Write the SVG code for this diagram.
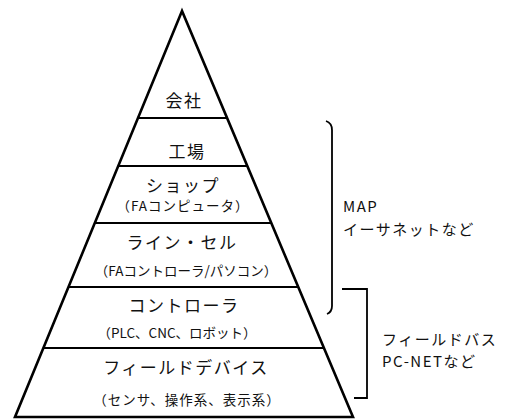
<svg xmlns="http://www.w3.org/2000/svg" width="512" height="420" viewBox="0 0 512 420">
<style>
.frame{fill:none;stroke:#000;stroke-width:2.6;stroke-linejoin:miter}
.div{stroke:#000;stroke-width:2}
.br{fill:none;stroke:#000;stroke-width:1.8}
text{font-family:"Noto Sans CJK JP","Noto Sans",sans-serif;fill:#111;text-anchor:middle}
.t1{font-size:17px;letter-spacing:1.5px}
.t2{font-size:13.5px}
.side{font-size:15px;text-anchor:start;letter-spacing:1.5px}
</style>
<rect width="512" height="420" fill="#fff"/>
<g id="pyramid">
<polygon class="frame" points="182,11 15,417 353,417"/>
<line class="div" x1="138" y1="118" x2="227" y2="118"/>
<line class="div" x1="118" y1="166" x2="247" y2="166"/>
<line class="div" x1="95" y1="223" x2="271" y2="223"/>
<line class="div" x1="68.5" y1="287" x2="298" y2="287"/>
<line class="div" x1="43.5" y1="348" x2="324" y2="348"/>
</g>
<g id="kaisha"><text class="t1" x="184" y="107">会社</text></g>
<g id="kojo"><text class="t1" x="187" y="158">工場</text></g>
<g id="shop"><text class="t1" x="183" y="192" letter-spacing="2.5">ショップ</text><text class="t2" x="183" y="211" letter-spacing="1">（FAコンピュータ）</text></g>
<g id="line-cell"><text class="t1" x="182" y="249" letter-spacing="1.5">ライン・セル</text><text class="t2" x="186" y="276">（FAコントローラ/パソコン）</text></g>
<g id="controller"><text class="t1" x="184" y="312" letter-spacing="2">コントローラ</text><text class="t2" x="177" y="338">（PLC、CNC、ロボット）</text></g>
<g id="field-device"><text class="t1" x="186" y="374" letter-spacing="2">フィールドデバイス</text><text class="t2" x="187" y="405" letter-spacing="1">（センサ、操作系、表示系）</text></g>
<g id="connectors">
<path class="br" d="M326,121 Q332,123 332,130 L332,306 Q332,312 327,314"/>
<path class="br" d="M342,289 L367,289 L367,398 L354,398"/>
</g>
<g id="map"><text class="side" x="343" y="212" letter-spacing="3">MAP</text><text class="side" x="343" y="235">イーサネットなど</text></g>
<g id="fieldbus"><text class="side" x="382" y="345" letter-spacing="1">フィールドバス</text><text class="side" x="382" y="367" letter-spacing="2.5">PC-NETなど</text></g>
</svg>
